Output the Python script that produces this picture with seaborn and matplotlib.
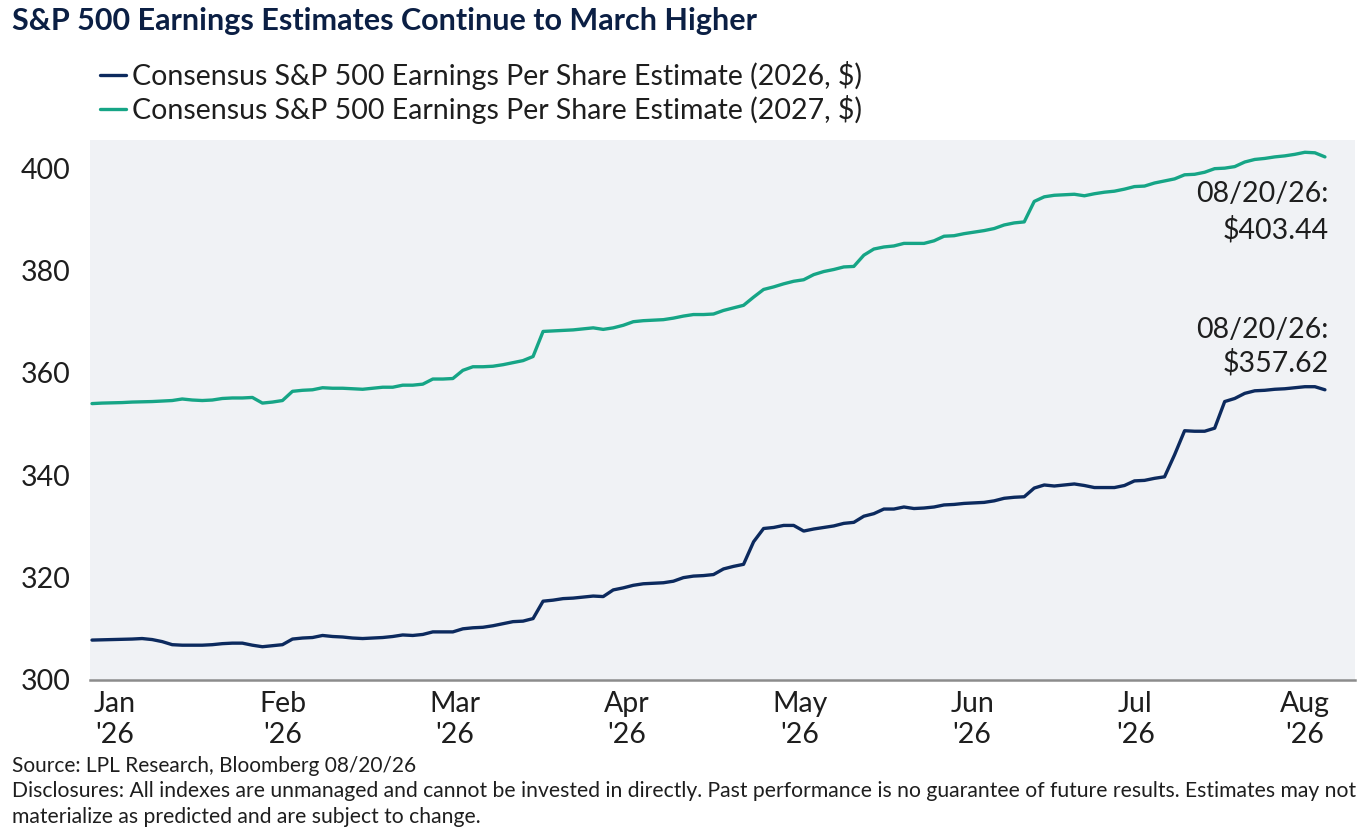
import numpy as np
import pandas as pd
import matplotlib
matplotlib.use("Agg")
import matplotlib.pyplot as plt
import seaborn as sns

# values, roughly one point every ~1.3 trading days (Jan -> Aug 20 '26)
eps_2027 = [354.0, 354.1, 354.15, 354.2, 354.3, 354.35, 354.4, 354.5, 354.6, 354.9,
            354.7, 354.6, 354.7, 355.0, 355.1, 355.1, 355.2, 354.1, 354.3, 354.6,
            356.4, 356.6, 356.7, 357.1, 357.0, 357.0, 356.9, 356.8, 357.0, 357.2,
            357.2, 357.6, 357.6, 357.8, 358.8, 358.8, 358.9, 360.5, 361.2, 361.2,
            361.3, 361.6, 362.0, 362.4, 363.2, 368.1, 368.2, 368.3, 368.4, 368.6,
            368.8, 368.5, 368.8, 369.3, 370.0, 370.2, 370.3, 370.4, 370.7, 371.1,
            371.4, 371.4, 371.5, 372.2, 372.7, 373.2, 374.8, 376.3, 376.8, 377.4,
            377.9, 378.2, 379.2, 379.8, 380.2, 380.7, 380.8, 383.0, 384.2, 384.6,
            384.8, 385.3, 385.3, 385.3, 385.8, 386.7, 386.8, 387.2, 387.5, 387.8,
            388.2, 388.9, 389.3, 389.5, 393.5, 394.4, 394.7, 394.8, 394.9, 394.6,
            395.0, 395.3, 395.5, 395.9, 396.4, 396.5, 397.1, 397.5, 397.9, 398.7,
            398.8, 399.2, 399.9, 400.0, 400.3, 401.2, 401.7, 401.9, 402.2, 402.4,
            402.7, 403.1, 403.0, 402.2]

eps_2026 = [307.8, 307.85, 307.9, 307.95, 308.0, 308.1, 307.9, 307.5, 306.9, 306.8,
            306.8, 306.8, 306.9, 307.1, 307.2, 307.2, 306.8, 306.5, 306.7, 306.9,
            308.0, 308.2, 308.3, 308.7, 308.5, 308.4, 308.2, 308.1, 308.2, 308.3,
            308.5, 308.8, 308.7, 308.9, 309.4, 309.4, 309.4, 310.0, 310.2, 310.3,
            310.6, 311.0, 311.4, 311.5, 312.0, 315.4, 315.6, 315.9, 316.0, 316.2,
            316.4, 316.3, 317.6, 318.0, 318.5, 318.8, 318.9, 319.0, 319.3, 320.0,
            320.3, 320.4, 320.6, 321.7, 322.2, 322.6, 327.0, 329.6, 329.8, 330.2,
            330.2, 329.1, 329.5, 329.8, 330.1, 330.6, 330.8, 332.0, 332.5, 333.4,
            333.4, 333.8, 333.5, 333.6, 333.8, 334.2, 334.3, 334.5, 334.6, 334.7,
            335.0, 335.5, 335.7, 335.8, 337.5, 338.1, 337.9, 338.1, 338.3, 338.0,
            337.6, 337.6, 337.6, 338.0, 338.9, 339.0, 339.4, 339.7, 344.0, 348.7,
            348.6, 348.6, 349.2, 354.4, 355.0, 356.0, 356.5, 356.6, 356.8, 356.9,
            357.1, 357.3, 357.3, 356.7]

month_labels = ["Jan\n'26", "Feb\n'26", "Mar\n'26", "Apr\n'26",
                "May\n'26", "Jun\n'26", "Jul\n'26", "Aug\n'26"]
month_pos = [2.3, 19.0, 36.2, 53.3, 70.6, 87.8, 104.1, 121.0]

name_26 = "Consensus S&P 500 Earnings Per Share Estimate (2026, $)"
name_27 = "Consensus S&P 500 Earnings Per Share Estimate (2027, $)"

df = pd.concat([
    pd.DataFrame({"idx": np.arange(len(eps_2026)), "eps": eps_2026, "series": name_26}),
    pd.DataFrame({"idx": np.arange(len(eps_2027)), "eps": eps_2027, "series": name_27}),
])

NAVY = "#0c2a5e"
TEAL = "#16a586"
INK = "#1e1e1e"

sns.set_style("white")
plt.rcParams["font.family"] = ["Lato", "DejaVu Sans"]

fig = plt.figure(figsize=(13.67, 8.34), dpi=100)
ax = fig.add_axes([90 / 1367, 1 - 680 / 834, 1265 / 1367, 540 / 834])
ax.set_facecolor("#f0f2f5")

sns.lineplot(data=df, x="idx", y="eps", hue="series",
             palette={name_26: NAVY, name_27: TEAL}, linewidth=2.4, ax=ax)

ax.set_xlim(-0.2, 126)
ax.set_ylim(300, 405.5)
ax.set_yticks([300, 320, 340, 360, 380, 400])
ax.set_xticks(month_pos)
ax.set_xticklabels(month_labels, linespacing=1.25)
ax.tick_params(axis="both", length=0, labelsize=20.5, colors=INK)
ax.tick_params(axis="y", pad=14)
ax.tick_params(axis="x", pad=8)
ax.set_xlabel("")
ax.set_ylabel("")
for s in ["top", "right", "left"]:
    ax.spines[s].set_visible(False)
ax.spines["bottom"].set_color("#8c8c8c")
ax.spines["bottom"].set_linewidth(1.8)

# legend above the plot
handles, labels = ax.get_legend_handles_labels()
ax.get_legend().remove()
fig.legend(handles, labels, loc="upper left", bbox_to_anchor=(86 / 1367, 1 - 47 / 834),
           frameon=False, fontsize=20.5, handlelength=0.9, handletextpad=0.22,
           labelspacing=0.18, borderpad=0, labelcolor=INK)

# end-of-series labels
ax.text(123.4, 397.4, "08/20/26:\n$403.44", ha="right", va="top", fontsize=20.5,
        color=INK, linespacing=1.4)
ax.text(123.4, 371.0, "08/20/26:\n$357.62", ha="right", va="top", fontsize=20.5,
        color=INK, linespacing=1.3)

fig.text(12 / 1367, 1 - 21 / 834, "S&P 500 Earnings Estimates Continue to March Higher",
         ha="left", va="center", fontsize=22, fontweight="bold", color="#0b1f44")

fig.text(12 / 1367, 1 - 766 / 834, "Source: LPL Research, Bloomberg 08/20/26",
         ha="left", va="center", fontsize=15, color=INK)
fig.text(12 / 1367, 1 - 781 / 834,
         "Disclosures: All indexes are unmanaged and cannot be invested in directly. "
         "Past performance is no guarantee of future results. Estimates may not\n"
         "materialize as predicted and are subject to change.",
         ha="left", va="top", fontsize=15.2, color=INK, linespacing=1.4)

fig.savefig("out.png", dpi=100, facecolor="white")
